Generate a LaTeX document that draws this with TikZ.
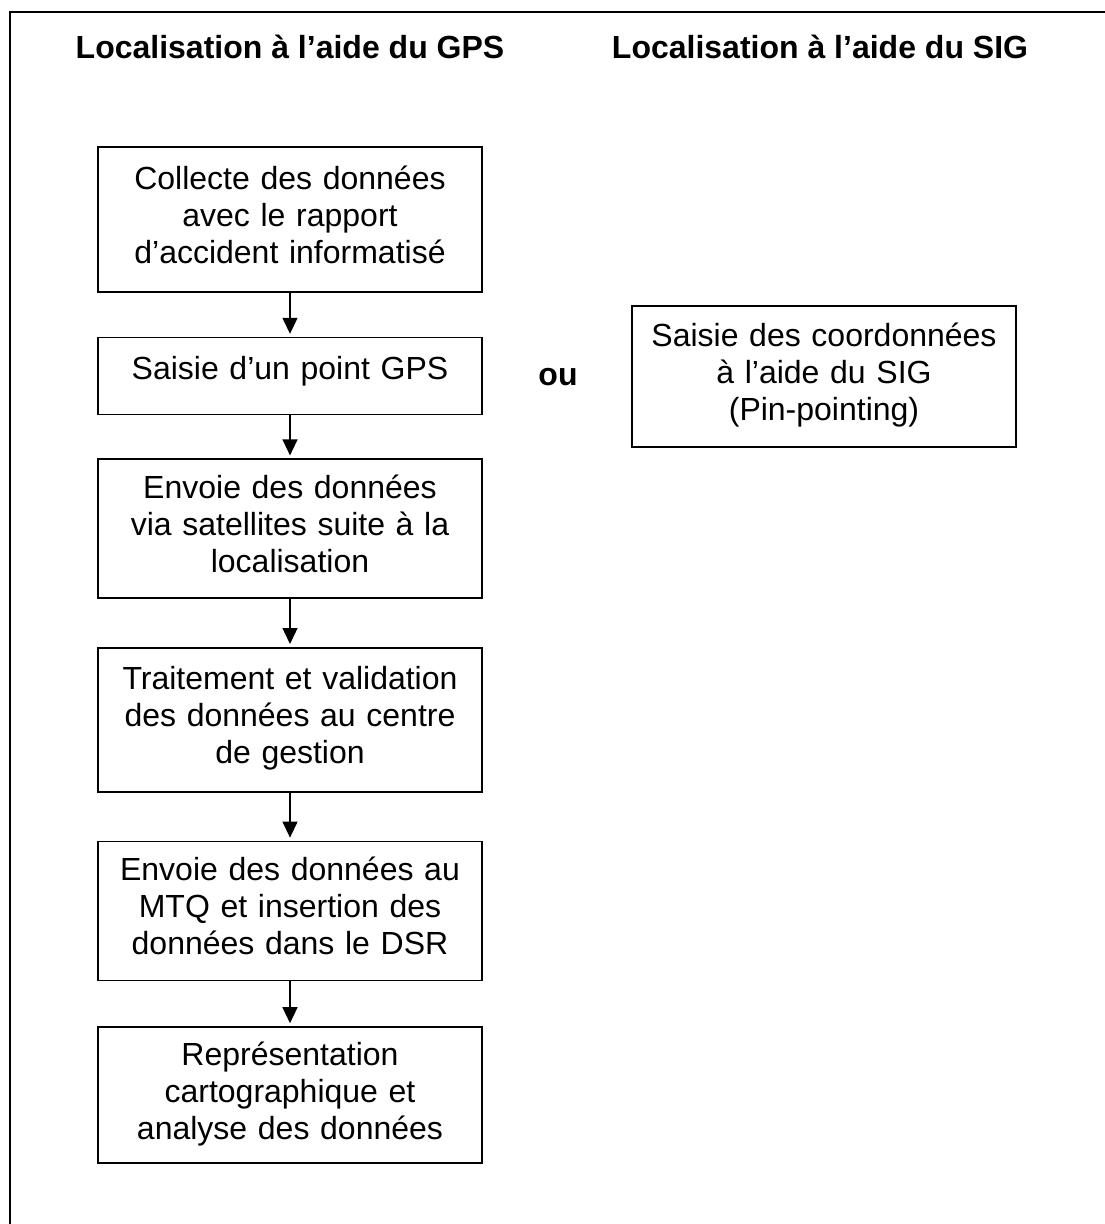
\documentclass[tikz,border=0pt]{standalone}
\usepackage{fontspec}
\setmainfont{Liberation Sans}
\usetikzlibrary{positioning,arrows.meta}
\tikzset{
  etape/.style={draw,line width=1.6pt,align=center,text width=360pt,
    minimum width=384pt,minimum height=141pt,inner sep=0pt,
    text height=24pt,text depth=84pt,
    font=\fontsize{32}{37}\selectfont},
  etapecourte/.style={etape,minimum height=77pt,text depth=17pt},
  titre/.style={font=\fontsize{32}{37}\selectfont\bfseries},
  fleche/.style={line width=1.3pt,shorten >=3pt,-{Triangle[width=15pt,length=16pt]}}
}

\begin{document}
\begin{tikzpicture}[x=1pt,y=-1pt,node distance=44pt]
\useasboundingbox (0,0) rectangle (1104,1224);
\draw[line width=1.6pt] (10,1240) -- (10,12) -- (1120,12);
\node[titre] (tgps) at (290,47) {Localisation à l’aide du GPS};
\node[titre] (tsig) at (820,47) {Localisation à l’aide du SIG};
% colonne GPS
\node[etape,minimum height=145pt] (collecte) at (290,219.5) {Collecte des données\\avec le rapport\\d’accident informatisé};
\node[etapecourte,below=of collecte] (point) {Saisie d’un point GPS};
\node[etape,below=43pt of point,minimum height=139pt] (envoi) {Envoie des données\\via satellites suite à la\\localisation};
\node[etape,below=48pt of envoi,minimum height=144pt] (traitement) {Traitement et validation\\des données au centre\\de gestion};
\node[etape,below=48pt of traitement,minimum height=139pt] (mtq) {Envoie des données au\\MTQ et insertion des\\données dans le DSR};
\node[etape,below=45pt of mtq,minimum height=136pt] (carto) {Représentation\\cartographique et\\analyse des données};
% colonne SIG
\node[titre] (ou) at (558,377) {ou};
\node[etape] (pin) at (824,376.5) {Saisie des coordonnées\\à l’aide du SIG\\(Pin-pointing)};
\foreach \a/\b in {collecte/point,point/envoi,envoi/traitement,traitement/mtq,mtq/carto}
  \draw[fleche] (\a) -- (\b);
\end{tikzpicture}
\end{document}
